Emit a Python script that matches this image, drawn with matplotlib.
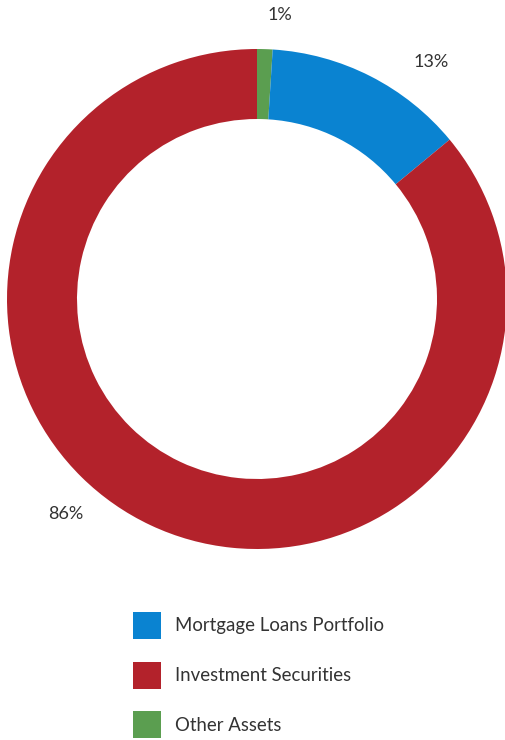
import matplotlib
matplotlib.use("Agg")
import matplotlib.pyplot as plt

# asset mix (percent), drawn clockwise from twelve o'clock
categories = ["Other Assets", "Mortgage Loans Portfolio", "Investment Securities"]
shares = [1, 13, 86]
colors = ["#5b9e50", "#0a83d1", "#b3222b"]
pct_labels = ["1%", "13%", "86%"]
legend_order = ["Mortgage Loans Portfolio", "Investment Securities", "Other Assets"]

W, H = 506, 740
plt.rcParams["font.family"] = ["Lato", "DejaVu Sans"]

fig = plt.figure(figsize=(W / 100, H / 100), dpi=100)
ax = fig.add_axes([0, 0, 1, 1])

cx, cy, r = 257, H - 299, 250
wedges, _ = ax.pie(shares, colors=colors, startangle=90, counterclock=False,
                   center=(cx, cy), radius=r, frame=True,
                   wedgeprops=dict(width=70, linewidth=0))
ax.set_xlim(0, W)
ax.set_ylim(0, H)
ax.set_aspect("equal")
ax.axis("off")

# percentage labels sit outside the ring
label_pos = [(280, H - 15), (431, H - 62), (66, H - 514)]
for txt, (x, y) in zip(pct_labels, label_pos):
    ax.text(x, y, txt, ha="center", va="center", fontsize=13, color="#333333")

handles = [wedges[categories.index(c)] for c in legend_order]
ax.legend(handles, legend_order, loc="upper left", frameon=False,
          bbox_to_anchor=(133 / W, 1 - 612 / H), borderpad=0, borderaxespad=0,
          handlelength=1.5, handleheight=1.85, handletextpad=0.75,
          labelspacing=1.22, fontsize=13.4, labelcolor="#333333")

fig.savefig("out.png", dpi=100)
